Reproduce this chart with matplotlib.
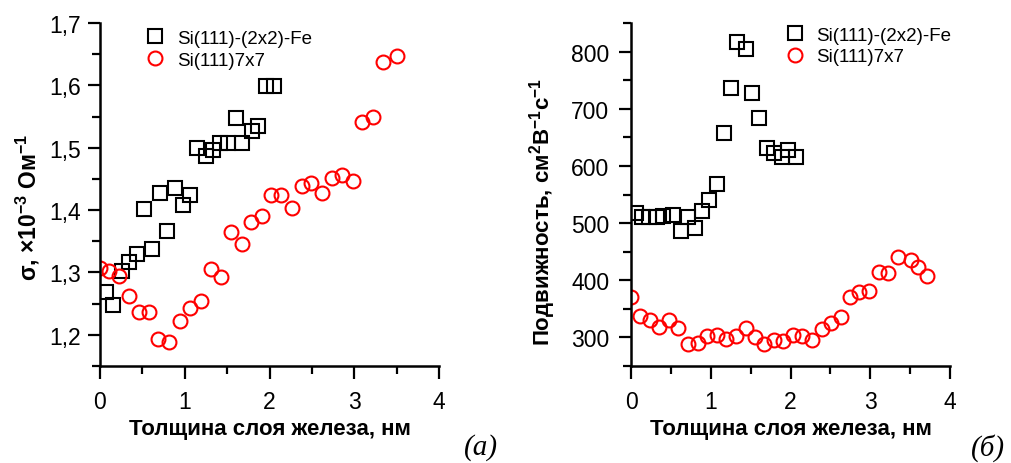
import matplotlib
matplotlib.use("Agg")
import matplotlib.pyplot as plt
from matplotlib.ticker import MultipleLocator, FuncFormatter

plt.rcParams["font.family"] = ["Liberation Sans", "DejaVu Sans"]
plt.rcParams["mathtext.default"] = "regular"

# --- data ---
# (а) conductivity, x10^-3 Ohm^-1
a_fe_x = [0.07, 0.15, 0.26, 0.34, 0.44, 0.52, 0.61, 0.71, 0.79, 0.88, 0.98, 1.06,
          1.15, 1.25, 1.33, 1.42, 1.51, 1.60, 1.68, 1.79, 1.87, 1.96, 2.05]
a_fe_y = [1.269, 1.248, 1.302, 1.317, 1.329, 1.401, 1.337, 1.427, 1.366, 1.436, 1.408, 1.424,
          1.499, 1.486, 1.497, 1.508, 1.507, 1.547, 1.507, 1.527, 1.535, 1.599, 1.599]
a_77_x = [0.0, 0.11, 0.22, 0.34, 0.46, 0.58, 0.69, 0.82, 0.94, 1.06, 1.19, 1.31, 1.43, 1.54, 1.67,
          1.78, 1.91, 2.02, 2.14, 2.26, 2.38, 2.49, 2.62, 2.74, 2.86, 2.98, 3.09, 3.22, 3.34, 3.51]
a_77_y = [1.307, 1.302, 1.294, 1.262, 1.237, 1.237, 1.194, 1.189, 1.222, 1.243, 1.254, 1.305, 1.293,
          1.365, 1.345, 1.381, 1.390, 1.424, 1.424, 1.404, 1.438, 1.444, 1.428, 1.451, 1.456, 1.446,
          1.542, 1.550, 1.638, 1.647]

# (б) mobility, cm^2 V^-1 s^-1
b_fe_x = [0.06, 0.14, 0.23, 0.33, 0.40, 0.53, 0.63, 0.71, 0.80, 0.89, 0.98, 1.08,
          1.17, 1.25, 1.33, 1.44, 1.52, 1.60, 1.70, 1.79, 1.89, 1.97, 2.07]
b_fe_y = [518, 510, 510, 510, 512, 515, 487, 510, 492, 522, 540, 569,
          657, 737, 817, 805, 728, 683, 632, 622, 615, 627, 616]
b_77_x = [0.0, 0.11, 0.24, 0.35, 0.48, 0.59, 0.71, 0.84, 0.95, 1.08, 1.19, 1.32, 1.44, 1.55, 1.67,
          1.79, 1.91, 2.03, 2.14, 2.27, 2.39, 2.51, 2.63, 2.74, 2.86, 2.98, 3.11, 3.22, 3.35, 3.51,
          3.60, 3.71]
b_77_y = [370, 338, 330, 319, 331, 317, 289, 291, 303, 305, 298, 303, 317, 300, 288,
          295, 293, 305, 302, 295, 314, 326, 335, 370, 379, 382, 414, 412, 440, 436,
          424, 408]

lab_fe = "Si(111)-(2x2)-Fe"
lab_77 = "Si(111)7x7"
xlabel = "Толщина слоя железа, нм"

fig = plt.figure(figsize=(10.11, 4.64), dpi=100)
ax1 = fig.add_axes([100 / 1011, 97 / 464, 339 / 1011, 343 / 464])
ax2 = fig.add_axes([631 / 1011, 97 / 464, 319 / 1011, 343 / 464])

mk = dict(linestyle="none", markersize=10, markeredgewidth=1.5, markerfacecolor="none")


def style(ax, ypad):
    for s in ["top", "right"]:
        ax.spines[s].set_visible(False)
    for s in ["left", "bottom"]:
        ax.spines[s].set_linewidth(1.8)
    ax.tick_params(which="major", direction="out", length=9, width=1.6, labelsize=16.5)
    ax.tick_params(which="minor", direction="out", length=5.5, width=1.6)
    ax.tick_params(axis="x", which="major", pad=8)
    ax.tick_params(axis="y", which="major", pad=ypad)
    ax.set_xlim(0, 4)
    ax.xaxis.set_major_locator(MultipleLocator(1))
    ax.xaxis.set_minor_locator(MultipleLocator(0.5))
    ax.set_xlabel(xlabel, fontsize=16, fontweight="bold", labelpad=4)


# --- panel (а) ---
ax1.plot(a_fe_x, a_fe_y, marker="s", color="black", label=lab_fe, **mk)
ax1.plot(a_77_x, a_77_y, marker="o", color="red", label=lab_77, **mk)
style(ax1, 4.5)
ax1.set_ylim(1.15, 1.7)
ax1.yaxis.set_major_locator(MultipleLocator(0.1))
ax1.yaxis.set_minor_locator(MultipleLocator(0.05))
ax1.yaxis.set_major_formatter(FuncFormatter(lambda v, p: f"{v:.1f}".replace(".", ",")))
ax1.set_ylabel("σ, ×10$^{-3}$ Ом$^{-1}$", fontsize=16.5, fontweight="bold")
ax1.yaxis.set_label_coords(-0.17, 0.466)
ax1.legend(loc="upper left", bbox_to_anchor=(0.136, 0.98), frameon=False, fontsize=13.5,
           borderpad=0, borderaxespad=0, handlelength=1.0, handletextpad=0.65,
           labelspacing=0.25)

# --- panel (б) ---
ax2.plot(b_fe_x, b_fe_y, marker="s", color="black", label=lab_fe, **mk)
ax2.plot(b_77_x, b_77_y, marker="o", color="red", label=lab_77, **mk)
style(ax2, 6.5)
ax2.set_ylim(250, 850)
ax2.yaxis.set_major_locator(MultipleLocator(100))
ax2.yaxis.set_minor_locator(MultipleLocator(50))
ax2.set_ylabel("Подвижность, см$^{2}$В$^{-1}$с$^{-1}$", fontsize=16, fontweight="bold")
ax2.yaxis.set_label_coords(-0.228, 0.452)
ax2.legend(loc="upper left", bbox_to_anchor=(0.486, 0.99), frameon=False, fontsize=13.5,
           borderpad=0, borderaxespad=0, handlelength=1.0, handletextpad=0.6,
           labelspacing=0.25)

# panel letters
fig.text(481 / 1011, 1 - 448 / 464, "(а)", family="Liberation Serif", style="italic",
         fontsize=21, ha="center", va="center")
fig.text(988 / 1011, 1 - 448 / 464, "(б)", family="Liberation Serif", style="italic",
         fontsize=21, ha="center", va="center")

fig.savefig("out.png", dpi=100)
